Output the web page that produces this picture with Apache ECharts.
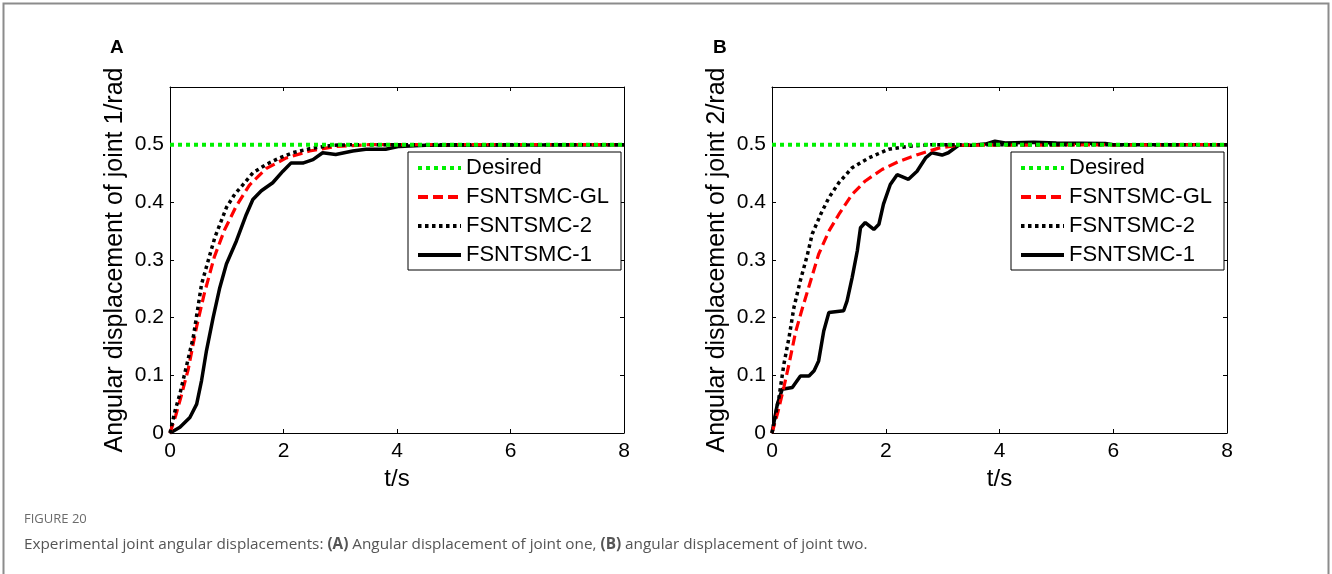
<!DOCTYPE html>
<html>
<head>
<meta charset="utf-8">
<script src="https://cdn.jsdelivr.net/npm/echarts@6/dist/echarts.min.js"></script>
<style>
html,body{margin:0;padding:0;background:#fff;}
#chart{width:1332px;height:574px;}
</style>
</head>
<body>
<div id="chart"></div>
<script>
// ---- data (t in s, value in rad) ----
const seriesNames = ['Desired', 'FSNTSMC-GL', 'FSNTSMC-2', 'FSNTSMC-1'];
const xTicks = [0, 2, 4, 6, 8];
const yTicks = [0, 0.1, 0.2, 0.3, 0.4, 0.5];

const desired = [[0, 0.5], [8, 0.5]];

const jointA_GL = [[0,0],[0.1,0.03],[0.2,0.065],[0.32,0.11],[0.47,0.185],[0.6,0.24],[0.78,0.305],[0.96,0.352],[1.16,0.392],[1.4,0.43],[1.7,0.459],[2.05,0.477],[2.46,0.489],[2.92,0.497],[3.5,0.5],[8,0.5]];
const jointA_2 = [[0,0],[0.09,0.039],[0.175,0.068],[0.41,0.166],[0.556,0.258],[0.67,0.298],[0.79,0.339],[0.994,0.391],[1.14,0.414],[1.29,0.431],[1.46,0.451],[1.7,0.466],[1.93,0.477],[2.16,0.486],[2.46,0.493],[2.87,0.499],[3.3,0.5],[8,0.5]];
const jointA_1 = [[0,0],[0.175,0.01],[0.35,0.027],[0.47,0.05],[0.556,0.091],[0.643,0.143],[0.76,0.2],[0.877,0.252],[0.994,0.293],[1.17,0.333],[1.345,0.379],[1.46,0.405],[1.61,0.42],[1.81,0.434],[1.99,0.454],[2.13,0.468],[2.34,0.468],[2.52,0.474],[2.69,0.486],[2.92,0.483],[3.22,0.489],[3.45,0.492],[3.8,0.492],[4.04,0.497],[4.5,0.499],[8,0.5]];

const jointB_GL = [[0,0],[0.1,0.035],[0.21,0.08],[0.3,0.12],[0.415,0.175],[0.53,0.215],[0.68,0.264],[0.82,0.31],[1.0,0.35],[1.175,0.379],[1.41,0.414],[1.64,0.437],[1.935,0.457],[2.23,0.471],[2.57,0.483],[2.93,0.494],[3.28,0.499],[8,0.5]];
const jointB_2 = [[0,0],[0.123,0.062],[0.21,0.12],[0.3,0.166],[0.386,0.218],[0.5,0.265],[0.62,0.308],[0.707,0.345],[0.854,0.379],[1.0,0.408],[1.175,0.434],[1.41,0.46],[1.7,0.477],[2.05,0.492],[2.4,0.497],[2.8,0.5],[8,0.5]];
const jointB_1 = [[0,0],[0.094,0.05],[0.18,0.076],[0.357,0.079],[0.5,0.099],[0.65,0.099],[0.74,0.108],[0.82,0.125],[0.91,0.177],[1.0,0.209],[1.26,0.212],[1.32,0.229],[1.41,0.27],[1.5,0.316],[1.556,0.356],[1.64,0.365],[1.79,0.353],[1.88,0.362],[1.96,0.397],[2.08,0.431],[2.2,0.448],[2.4,0.44],[2.55,0.454],[2.7,0.477],[2.81,0.486],[2.99,0.482],[3.1,0.486],[3.28,0.499],[3.51,0.499],[3.75,0.501],[3.92,0.506],[4.1,0.503],[4.6,0.504],[5.0,0.503],[5.86,0.502],[6.0,0.5],[8,0.5]];

const panelLetters = ['A', 'B'];
const yNames = ['Angular displacement of joint 1/rad', 'Angular displacement of joint 2/rad'];
const xName = 't/s';
const figLabel = 'FIGURE 20';

// ---- build ----
const FONT = "'Liberation Sans', Arial, sans-serif";
const grids = [
  {left: 170, top: 87, width: 454, height: 346},
  {left: 772, top: 87, width: 455, height: 346}
];

function xAxes(g) {
  const base = {
    gridIndex: g, type: 'value', min: 0, max: 8, interval: 2,
    axisLine: {show: true, onZero: false, lineStyle: {color: '#000', width: 1}},
    axisTick: {show: true, inside: true, length: 4, lineStyle: {color: '#000'}},
    splitLine: {show: false}
  };
  return [
    Object.assign({}, base, {
      position: 'bottom', name: xName, nameLocation: 'middle', nameGap: 32,
      nameTextStyle: {fontFamily: FONT, fontSize: 24, color: '#000'},
      axisLabel: {fontFamily: FONT, fontSize: 21, color: '#000', margin: 8}
    }),
    Object.assign({}, base, {position: 'top', axisLabel: {show: false}})
  ];
}
function yAxes(g) {
  const base = {
    gridIndex: g, type: 'value', min: 0, max: 0.6, interval: 0.1,
    axisLine: {show: true, onZero: false, lineStyle: {color: '#000', width: 1}},
    axisTick: {show: true, inside: true, length: 4, lineStyle: {color: '#000'}},
    splitLine: {show: false}
  };
  return [
    Object.assign({}, base, {
      position: 'left', name: yNames[g], nameLocation: 'middle', nameGap: 42,
      nameTextStyle: {fontFamily: FONT, fontSize: 25, color: '#000'},
      axisLabel: {fontFamily: FONT, fontSize: 21, color: '#000', margin: 6,
        formatter: v => (yTicks.some(t => Math.abs(t - v) < 1e-9) ? (Math.round(v * 10) / 10).toString() : '')}
    }),
    Object.assign({}, base, {position: 'right', axisLabel: {show: false}})
  ];
}

const styles = {
  'Desired': {color: '#00f000', width: 4, type: [4, 4], z: 5},
  'FSNTSMC-GL': {color: '#ff0000', width: 3.2, type: [10, 5], z: 3},
  'FSNTSMC-2': {color: '#000000', width: 3.5, type: [3.5, 3.5], z: 4},
  'FSNTSMC-1': {color: '#000000', width: 3.5, type: 'solid', z: 2}
};
function mk(name, data, g) {
  const s = styles[name];
  return {
    name: name, type: 'line', data: data, xAxisIndex: g * 2, yAxisIndex: g * 2,
    symbol: 'none', showSymbol: false, smooth: false, z: s.z, animation: false,
    lineStyle: {color: s.color, width: s.width, type: s.type, cap: 'butt'},
    itemStyle: {color: s.color}
  };
}
const panels = [
  [desired, jointA_GL, jointA_2, jointA_1],
  [desired, jointB_GL, jointB_2, jointB_1]
];
const series = [];
panels.forEach((p, g) => p.forEach((d, i) => series.push(mk(seriesNames[i], d, g))));

function legend(left) {
  return {
    show: true, orient: 'vertical', left: left, top: 152,
    data: seriesNames,
    itemWidth: 43, itemHeight: 14, itemGap: 7,
    padding: [5, 12, 4, 8],
    itemStyle: {opacity: 0},
    lineStyle: {width: 4},
    backgroundColor: '#fff', borderColor: '#000', borderWidth: 1, borderRadius: 0,
    textStyle: {fontFamily: FONT, fontSize: 22, color: '#000', lineHeight: 22},
    selectedMode: false
  };
}

const chart = echarts.init(document.getElementById('chart'), null, {renderer: 'canvas'});
chart.setOption({
  backgroundColor: '#fff',
  animation: false,
  grid: grids,
  xAxis: [...xAxes(0), ...xAxes(1)],
  yAxis: [...yAxes(0), ...yAxes(1)],
  legend: [legend(408), legend(1011)],
  series: series,
  graphic: [
    {type: 'rect', shape: {x: 3.5, y: 3.5, width: 1325, height: 620}, style: {fill: null, stroke: '#8c8c8c', lineWidth: 2}, silent: true},
    {type: 'text', left: 110, top: 38, style: {text: panelLetters[0], font: "bold 19px " + FONT, fill: '#000'}},
    {type: 'text', left: 713, top: 38, style: {text: panelLetters[1], font: "bold 19px " + FONT, fill: '#000'}},
    {type: 'text', left: 24, top: 513, style: {text: figLabel, font: "13px 'Open Sans', sans-serif", fill: '#6b6b6b'}},
    {type: 'text', left: 24, top: 537, style: {
      rich: {
        n: {fontFamily: "'Open Sans', sans-serif", fontSize: 15.3, fill: '#555'},
        b: {fontFamily: "'Open Sans', sans-serif", fontSize: 15.3, fontWeight: 'bold', fill: '#555'}
      },
      text: '{n|Experimental joint angular displacements: }{b|(A)}{n| Angular displacement of joint one, }{b|(B)}{n| angular displacement of joint two.}'
    }}
  ]
});
</script>
</body>
</html>
